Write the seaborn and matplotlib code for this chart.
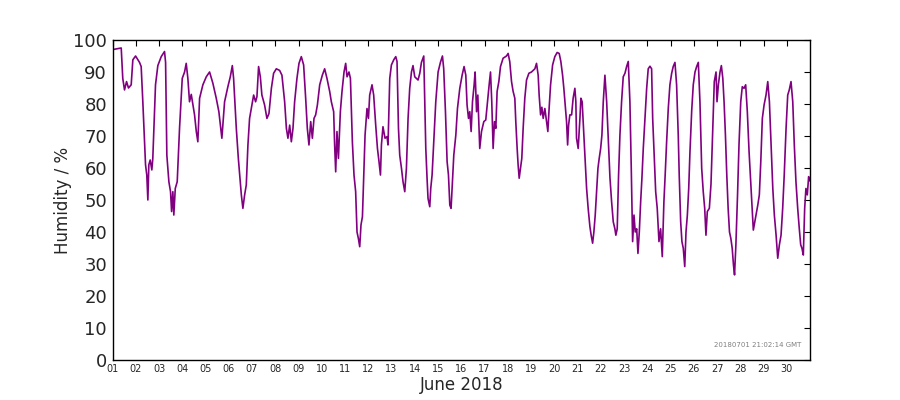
import pandas as pd
import matplotlib
matplotlib.use('Agg')
import matplotlib.pyplot as plt
import matplotlib.dates as mdates
import seaborn as sns

# Lecturas estimadas: horas desde 2018-06-01 00:00 y humedad relativa (%)
horas = [
    0.0, 9.0, 10.6, 12.4, 14.5, 16.5, 19.3, 21.0, 23.8, 27.9, 29.6, 31.3, 33.1, 34.1, 35.4,
    36.5, 37.5, 38.9, 40.6, 41.6, 44.4, 46.8, 50.3, 53.7, 54.8, 56.1, 58.2, 59.9, 61.0, 62.3,
    63.3, 64.8, 66.8, 69.2, 72.0, 74.4, 76.1, 77.8, 79.5, 81.3, 83.0, 84.7, 86.5, 88.1, 89.9,
    93.3, 96.8, 100.2, 103.6, 107.1, 109.8, 112.9, 115.7, 119.1, 121.6, 123.7, 125.0, 127.8,
    129.9, 131.9, 133.0, 134.6, 136.4, 138.1, 139.8, 141.5, 143.3, 145.7, 147.7, 149.1, 150.8,
    152.6, 154.2, 157.0, 159.4, 161.5, 164.0, 166.3, 169.1, 172.5, 174.9, 177.7, 179.5, 181.1,
    182.9, 184.6, 186.3, 188.0, 190.4, 192.5, 194.9, 197.3, 199.4, 201.1, 202.8, 204.6, 206.3,
    208.0, 209.7, 211.5, 213.9, 216.6, 219.0, 221.4, 224.2, 225.9, 228.3, 229.3, 230.4, 231.7,
    233.2, 235.2, 236.9, 239.0, 240.7, 242.1, 244.1, 245.6, 247.6, 249.3, 251.0, 252.4, 253.8,
    255.2, 256.5, 258.0, 259.3, 260.7, 262.7, 264.2, 265.5, 267.9, 269.6, 271.7, 273.5, 275.1,
    276.6, 277.6, 279.2, 281.3, 283.4, 284.4, 286.2, 287.9, 290.3, 292.4, 293.7, 295.2, 296.5,
    298.3, 299.9, 301.7, 303.4, 305.1, 306.8, 308.6, 310.2, 312.0, 315.4, 317.2, 318.9, 321.3,
    322.3, 323.4, 324.7, 325.7, 327.5, 328.5, 329.9, 331.6, 333.7, 336.1, 338.5, 340.6, 341.9,
    343.7, 345.4, 346.8, 348.2, 349.5, 350.9, 352.3, 354.4, 356.1, 358.5, 360.9, 362.9, 364.7,
    366.0, 367.5, 368.8, 370.2, 371.6, 373.3, 374.3, 375.8, 377.1, 379.1, 380.9, 383.3, 385.3,
    387.1, 388.8, 390.2, 391.5, 392.9, 394.3, 395.7, 397.0, 398.8, 400.5, 403.2, 406.7, 408.4,
    410.1, 411.9, 413.5, 415.3, 416.3, 417.7, 418.7, 419.8, 421.2, 422.5, 423.9, 425.6, 427.4,
    429.8, 432.5, 436.0, 437.7, 439.4, 440.4, 441.9, 443.2, 444.6, 446.3, 448.1, 449.4, 450.7,
    452.2, 454.3, 456.6, 459.0, 461.1, 462.8, 464.6, 465.9, 467.3, 468.7, 469.8, 470.8, 472.1,
    473.9, 475.5, 477.3, 478.3, 479.0, 480.7, 482.5, 483.5, 484.8, 486.6, 487.9, 489.4, 491.0,
    492.8, 494.1, 495.6, 496.9, 498.3, 499.7, 501.1, 502.4, 503.9, 505.2, 506.6, 508.3, 510.1,
    511.7, 513.5, 515.2, 516.9, 518.6, 519.6, 521.0, 522.4, 523.8, 525.5, 527.2, 529.0, 530.7,
    532.4, 534.1, 535.5, 536.9, 538.3, 539.6, 541.1, 542.4, 543.8, 545.2, 546.5, 547.9, 549.6,
    551.4, 553.0, 554.8, 556.5, 557.6, 558.9, 560.7, 562.3, 564.1, 565.8, 567.5, 569.2, 570.5,
    572.0, 573.7, 575.4, 577.2, 578.8, 580.6, 582.3, 584.0, 585.0, 586.5, 587.8, 589.2, 590.7,
    592.0, 593.4, 594.8, 596.1, 597.9, 599.5, 601.3, 603.0, 604.7, 606.4, 608.2, 609.8, 611.3,
    612.6, 614.0, 616.1, 617.8, 619.6, 621.2, 623.0, 624.0, 625.4, 627.1, 628.5, 630.0, 631.3,
    632.7, 634.1, 635.5, 636.9, 638.3, 639.7, 641.0, 642.1, 643.5, 645.2, 646.7, 648.5, 650.1,
    651.9, 653.6, 655.3, 657.1, 658.8, 660.2, 661.5, 663.0, 664.3, 666.1, 667.7, 669.2, 670.8,
    672.6, 674.6, 676.4, 678.1, 679.8, 681.6, 683.2, 685.0, 686.7, 688.4, 690.1, 691.8, 693.4,
    695.3, 697.0, 698.6, 700.4, 702.2, 703.8, 705.5, 707.3, 708.9, 710.4, 711.7, 713.1, 714.5,
    715.8, 717.2, 718.6, 719.7,
]
humedad = [
    97.0, 97.5, 88.0, 84.4, 87.0, 85.0, 86.0, 93.8, 95.0, 93.0, 91.7, 80.7, 68.0, 61.0, 57.8,
    50.0, 61.0, 62.5, 59.4, 63.0, 86.0, 92.0, 94.8, 96.4, 93.0, 64.0, 55.7, 52.6, 46.4, 52.6,
    45.3, 53.6, 55.7, 72.4, 88.0, 90.0, 92.7, 88.0, 80.7, 83.0, 79.7, 76.6, 71.4, 68.2, 81.8,
    86.0, 88.5, 90.0, 86.5, 81.8, 77.6, 69.3, 80.7, 85.4, 88.5, 92.0, 88.0, 72.4,
    63.0, 55.7, 51.6, 47.4, 51.6, 54.7, 67.2, 75.5, 78.6, 82.8, 80.7, 82.3, 91.7,
    88.5, 82.8, 79.7, 75.5, 77.0, 84.9, 89.6, 91.0, 90.5, 89.0, 80.7, 72.4, 69.3,
    73.4, 68.2, 72.4, 80.7, 88.0, 92.7, 94.8, 92.2, 81.8, 72.4, 67.2, 74.5, 69.3,
    75.5, 76.6, 79.7, 86.0, 89.0, 91.0, 88.0, 83.9, 80.7, 77.6, 67.2, 58.8, 71.4,
    63.0, 77.6, 83.9, 90.0, 92.7, 88.5, 90.0, 88.0, 68.2, 57.8, 52.6, 40.0, 38.0,
    35.4, 42.2, 44.8, 56.8, 70.3, 78.6, 75.5, 82.8, 86.0, 82.8, 73.4, 66.1, 62.0,
    57.8, 67.2, 72.9, 69.3, 69.8, 67.2, 88.0, 92.2, 93.8, 94.8, 93.3, 72.4, 64.0,
    59.9, 55.7, 52.6, 59.9, 75.5, 84.9, 90.0, 92.0, 88.5, 87.5, 89.6, 93.0, 95.0,
    80.7, 66.1, 56.8, 50.5, 47.9, 53.6, 57.8, 68.2, 80.7, 90.0, 93.0, 95.0, 91.0,
    77.6, 62.0, 57.8, 48.4, 47.4, 55.7, 64.0, 70.3, 78.6, 84.9, 89.0, 91.7, 89.0,
    79.7, 75.5, 77.6, 71.4, 80.7, 86.0, 90.0, 77.6, 82.8, 66.1, 71.4, 74.5, 75.0,
    80.7, 86.0, 90.0, 80.7, 66.1, 74.5, 72.4, 83.9, 87.0, 91.7, 94.3, 95.0, 95.8,
    93.2, 87.0, 84.0, 81.8, 74.5, 66.1, 61.0, 56.8, 59.9, 63.0, 72.4, 81.8, 87.5,
    89.6, 90.0, 91.0, 92.7, 89.0, 82.8, 76.6, 79.0, 75.5, 78.6, 74.5, 71.4, 78.6,
    86.0, 92.2, 94.8, 96.1, 95.8, 93.3, 89.0, 84.9, 79.7, 74.5, 67.2, 73.4, 76.6,
    76.6, 81.8, 84.9, 80.7, 69.3, 66.1, 75.5, 81.8, 80.7, 70.3, 63.0, 53.6, 47.4,
    41.7, 39.0, 36.5, 40.0, 45.3, 52.6, 59.9, 63.0, 66.1, 70.3, 80.7, 89.0, 80.7,
    69.3, 57.0, 49.5, 43.2, 41.0, 39.0, 41.0, 57.8, 70.3, 80.7, 88.5, 89.6, 91.7,
    93.3, 80.7, 59.9, 37.0, 45.3, 40.0, 41.0, 33.3, 40.0, 49.5, 56.8, 66.1, 75.5,
    84.9, 91.0, 91.8, 91.0, 75.5, 66.1, 52.6, 47.4, 37.0, 41.0, 32.3, 49.5, 57.8,
    68.2, 78.6, 86.0, 89.6, 91.7, 93.0, 86.0, 70.3, 57.8, 43.2, 37.0, 34.9, 29.2,
    40.0, 45.3, 53.6, 65.1, 78.0, 86.0, 90.0, 91.7, 93.0, 80.7, 59.9, 52.6, 47.4,
    39.0, 46.4, 47.4, 55.0, 72.0, 87.0, 90.0, 80.7, 86.0, 90.0, 92.0, 88.0, 80.7,
    70.3, 57.8, 47.4, 40.0, 38.0, 34.9, 29.7, 26.6, 36.0, 51.6, 67.2, 80.7, 85.4,
    84.9, 86.0, 77.6, 65.1, 55.7, 47.4, 40.6, 43.2, 45.3, 48.4, 51.6, 62.0, 75.5,
    79.7, 82.8, 87.0, 80.7, 67.2, 53.6, 45.3, 39.0, 31.8, 36.0, 39.0, 47.4, 57.8,
    72.4, 82.8, 84.4, 87.0, 80.7, 67.2, 55.7, 47.4, 41.2, 36.0, 34.9, 32.8, 47.4,
    53.6, 51.6, 57.3, 56.0,
]
dias = list(range(1, 31))
marca_tiempo = '20180701 21:02:14 GMT'

df = pd.DataFrame({
    'fecha': pd.Timestamp('2018-06-01') + pd.to_timedelta(horas, unit='h'),
    'humedad': humedad,
})

sns.set_style('white')
plt.rcParams['font.family'] = ['DejaVu Sans']

fig, ax = plt.subplots(figsize=(9, 4), dpi=100)
fig.subplots_adjust(left=0.125, right=0.9, top=0.9, bottom=0.1)

sns.lineplot(data=df, x='fecha', y='humedad', color='#800080', linewidth=1.2, ax=ax)

ax.set_xlim(pd.Timestamp('2018-06-01'), pd.Timestamp('2018-07-01'))
ax.set_ylim(0, 100)
ax.set_yticks(range(0, 101, 10))
ax.set_xticks([pd.Timestamp(2018, 6, d) for d in dias])
ax.xaxis.set_major_formatter(mdates.DateFormatter('%d'))

ax.tick_params(axis='both', direction='in', top=True, right=True, length=4, width=0.8, color='black')
ax.tick_params(axis='x', labelsize=7, pad=3)
ax.tick_params(axis='y', labelsize=13, pad=4)
for lado in ax.spines.values():
    lado.set_color('black')
    lado.set_linewidth(1.0)

ax.set_xlabel('June 2018', fontsize=12, labelpad=1)
ax.set_ylabel('Humidity / %', fontsize=12, labelpad=1)
ax.text(0.988, 0.047, marca_tiempo, transform=ax.transAxes, ha='right', va='center',
        fontsize=5, color='#808080')

fig.savefig('out.png', dpi=100)
